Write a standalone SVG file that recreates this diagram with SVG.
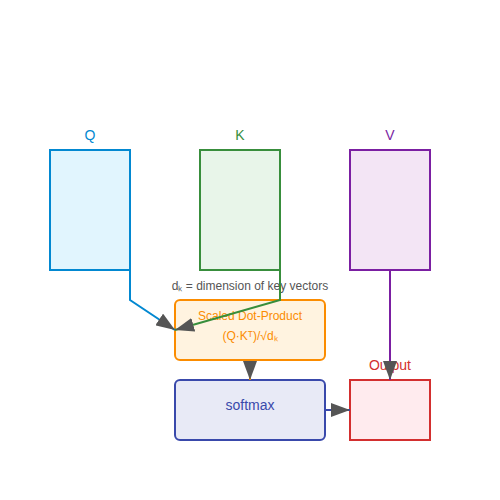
<svg xmlns="http://www.w3.org/2000/svg" width="500" height="500" viewBox="0 0 500 500">
<defs>
<marker id="arr" markerUnits="userSpaceOnUse" markerWidth="19" markerHeight="14" refX="19" refY="7" orient="auto">
<path d="M0,0 L19,7 L0,14 Z" fill="#555"/>
</marker>
<style>
text{font-family:"Liberation Sans",Arial,sans-serif;text-anchor:middle}
.lbl{font-size:14px}
.small{font-size:12px}
.conn{fill:none;stroke-width:2;marker-end:url(#arr)}
</style>
</defs>
<rect width="500" height="500" fill="#fff"/>
<g id="node-q">
<rect x="50" y="150" width="80" height="120" fill="#e1f5fe" stroke="#0288d1" stroke-width="2"/>
<text class="lbl" x="90" y="140" fill="#0288d1">Q</text>
</g>
<g id="node-k">
<rect x="200" y="150" width="80" height="120" fill="#e8f5e9" stroke="#388e3c" stroke-width="2"/>
<text class="lbl" x="240" y="140" fill="#388e3c">K</text>
</g>
<g id="node-v">
<rect x="350" y="150" width="80" height="120" fill="#f3e5f5" stroke="#7b1fa2" stroke-width="2"/>
<text class="lbl" x="390" y="140" fill="#7b1fa2">V</text>
</g>
<g id="node-scaled">
<rect x="175" y="300" width="150" height="60" rx="5" fill="#fff3e0" stroke="#fb8c00" stroke-width="2"/>
<text class="small" x="250" y="320" fill="#fb8c00">Scaled Dot-Product</text>
<text class="small" x="250" y="340" fill="#fb8c00">(Q·Kᵀ)/√dₖ</text>
</g>
<g id="node-softmax">
<rect x="175" y="380" width="150" height="60" rx="5" fill="#e8eaf6" stroke="#3949ab" stroke-width="2"/>
<text class="lbl" x="250" y="410" fill="#3949ab">softmax</text>
</g>
<g id="node-output">
<rect x="350" y="380" width="80" height="60" fill="#ffebee" stroke="#d32f2f" stroke-width="2"/>
<text class="lbl" x="390" y="370" fill="#d32f2f">Output</text>
</g>
<g id="note">
<text class="small" x="250" y="290" fill="#555">dₖ = dimension of key vectors</text>
</g>
<g id="connectors">
<path class="conn" d="M130,270 L130,300 L175,330" stroke="#0288d1"/>
<path class="conn" d="M280,270 L280,300 L175,330" stroke="#388e3c"/>
<path class="conn" d="M390,270 L390,380" stroke="#7b1fa2"/>
<path class="conn" d="M250,360 L250,380" stroke="#fb8c00"/>
<path class="conn" d="M325,410 L350,410" stroke="#3949ab"/>
</g>
</svg>
